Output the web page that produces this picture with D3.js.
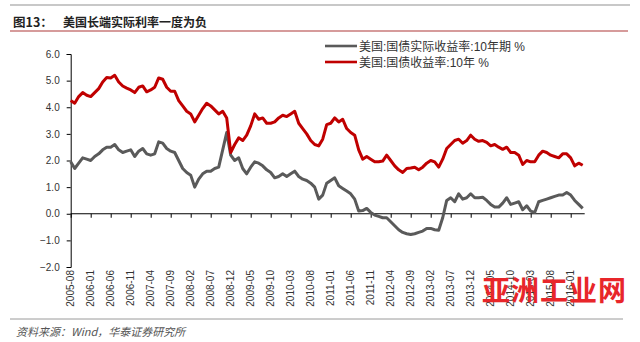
<!DOCTYPE html>
<html><head><meta charset="utf-8">
<script src="https://cdn.jsdelivr.net/npm/d3@7"></script>
<style>
html,body{margin:0;padding:0;background:#fff;}
svg{display:block;font-family:"Liberation Sans",Arial,"Noto Sans CJK SC",sans-serif;}
</style></head>
<body><svg id="c" width="640" height="342"></svg>
<script>
// ---- data ----
const startMonth = "2005-08";
const tickLabels = ["2005-08","2006-01","2006-06","2006-11","2007-04","2007-09","2008-02","2008-07","2008-12","2009-05","2009-10","2010-03","2010-08","2011-01","2011-06","2011-11","2012-04","2012-09","2013-02","2013-07","2013-12","2014-05","2014-10","2015-03","2015-08","2016-01"];
const yTicks = [-2,-1,0,1,2,3,4,5,6];
const seriesNames = ["美国:国债实际收益率:10年期 %","美国:国债收益率:10年 %"];
// monthly values from 2005-08 to 2016-04
const realYield = [1.95,1.7,1.9,2.1,2.05,2.0,2.15,2.25,2.4,2.5,2.5,2.6,2.4,2.3,2.35,2.4,2.15,2.35,2.45,2.25,2.2,2.25,2.7,2.65,2.45,2.35,2.3,2.0,1.7,1.55,1.45,1.0,1.3,1.5,1.6,1.6,1.7,1.75,2.4,3.05,2.2,2.0,2.1,1.7,1.5,1.75,1.95,1.9,1.8,1.65,1.55,1.35,1.4,1.5,1.4,1.5,1.6,1.4,1.3,1.25,1.15,1.0,0.55,0.7,1.15,1.25,1.35,1.05,0.95,0.85,0.75,0.55,0.1,0.12,0.2,0.05,-0.05,-0.1,-0.15,-0.15,-0.3,-0.45,-0.6,-0.7,-0.75,-0.78,-0.75,-0.7,-0.65,-0.55,-0.55,-0.6,-0.62,-0.15,0.5,0.6,0.45,0.75,0.55,0.6,0.75,0.6,0.6,0.62,0.5,0.35,0.25,0.25,0.4,0.6,0.35,0.4,0.45,0.15,0.3,0.1,0.05,0.45,0.5,0.55,0.6,0.65,0.7,0.7,0.8,0.7,0.5,0.35,0.2];
const nominalYield = [4.25,4.15,4.4,4.55,4.45,4.4,4.55,4.7,4.95,5.12,5.1,5.2,4.95,4.8,4.72,4.65,4.55,4.75,4.8,4.58,4.65,4.75,5.1,5.05,4.75,4.6,4.6,4.25,4.05,3.85,3.75,3.45,3.7,3.95,4.15,4.05,3.9,3.75,3.85,3.6,2.3,2.6,2.85,2.75,2.95,3.3,3.75,3.55,3.6,3.4,3.4,3.45,3.6,3.7,3.65,3.75,3.85,3.4,3.2,3.0,2.75,2.6,2.55,2.8,3.35,3.4,3.6,3.45,3.55,3.2,3.05,2.95,2.4,2.05,2.15,2.05,1.95,1.95,1.98,2.2,2.0,1.8,1.65,1.55,1.7,1.72,1.75,1.65,1.75,1.9,2.0,1.95,1.75,2.05,2.45,2.6,2.75,2.8,2.65,2.75,2.95,2.8,2.72,2.75,2.68,2.55,2.6,2.5,2.42,2.5,2.3,2.3,2.2,1.85,2.0,1.95,1.95,2.2,2.35,2.3,2.2,2.15,2.1,2.25,2.25,2.1,1.8,1.9,1.82];
const colors = ["#5a5a5a","#c00000"];

// ---- drawing ----
const svg = d3.select("#c");
const parseM = d3.timeParse("%Y-%m");
const m0 = parseM(startMonth);
const monthIdx = s => d3.timeMonth.count(m0, parseM(s));

const x = d3.scaleLinear().domain([0, monthIdx("2016-01")]).range([70.7, 570.7]);
const y = d3.scaleLinear().domain([-2, 6]).range([267, 54]);

// header / footer decorations
svg.append("line").attr("x1",10).attr("x2",630).attr("y1",5).attr("y2",5).attr("stroke","#c8c8c8").attr("stroke-width",2);
svg.append("text").attr("x",13).attr("y",27).attr("font-size",12.5).attr("font-weight","bold").attr("fill","#222")
  .attr("font-family","'Noto Sans CJK SC',sans-serif").text("图13：");
svg.append("text").attr("x",63).attr("y",27).attr("font-size",12).attr("font-weight","bold").attr("fill","#222")
  .attr("font-family","'Noto Sans CJK SC',sans-serif").text("美国长端实际利率一度为负");
svg.append("line").attr("x1",10).attr("x2",628).attr("y1",31).attr("y2",31).attr("stroke","#c97a7a").attr("stroke-width",1.5);

svg.append("line").attr("x1",10).attr("x2",623).attr("y1",319).attr("y2",319).attr("stroke","#9a9a9a").attr("stroke-width",1);
svg.append("text").attr("x",16).attr("y",336).attr("font-size",11).attr("font-style","italic").attr("fill","#555")
  .attr("font-family","'Noto Sans CJK SC',sans-serif").text("资料来源：Wind，华泰证券研究所");

// y axis
const yAxis = svg.append("g").attr("transform","translate(70.7,0)")
  .call(d3.axisLeft(y).tickValues(yTicks).tickFormat(d3.format(".1f")).tickSize(4).tickPadding(7));
yAxis.select(".domain").attr("stroke","#000");
yAxis.selectAll(".tick line").attr("stroke","#000");
yAxis.selectAll("text").attr("font-size",10).attr("fill","#333").attr("font-family","'Liberation Sans',Arial,sans-serif");

// x axis at zero
const xAxis = svg.append("g").attr("transform",`translate(0,${y(0)})`)
  .call(d3.axisBottom(x).tickValues(tickLabels.map(monthIdx)).tickSize(4).tickFormat(""));
xAxis.select(".domain").attr("stroke","#000").attr("d",`M70.7,0H${x(128.5)}`);
xAxis.selectAll(".tick line").attr("stroke","#000");

// x labels at bottom
svg.append("g").selectAll("text").data(tickLabels).join("text")
  .attr("transform", d => `translate(${x(monthIdx(d))+3.5},270) rotate(-90)`)
  .attr("text-anchor","end").attr("font-size",10).attr("fill","#333")
  .attr("font-family","'Liberation Sans',Arial,sans-serif").text(d => d);

// lines
const line = d3.line().x((d,i)=>x(i)).y(d=>y(d));
[realYield, nominalYield].forEach((s,k)=>{
  svg.append("path").datum(s).attr("d",line).attr("fill","none")
    .attr("stroke",colors[k]).attr("stroke-width",3).attr("stroke-linejoin","round");
});

// legend
const lg = svg.append("g");
seriesNames.forEach((n,k)=>{
  const yy = 46 + k*16;
  lg.append("line").attr("x1",325).attr("x2",357).attr("y1",yy).attr("y2",yy).attr("stroke",colors[k]).attr("stroke-width",2.6);
  lg.append("text").attr("x",359).attr("y",yy+4.5).attr("font-size",12).attr("fill","#333").text(n);
});

// watermark
svg.append("text").attr("x",482).attr("y",301).attr("font-size",28).attr("font-weight","bold")
  .attr("fill","#e8262a").attr("letter-spacing",1).attr("font-family","'Noto Sans CJK SC',sans-serif").text("亚洲工业网");
</script></body></html>
